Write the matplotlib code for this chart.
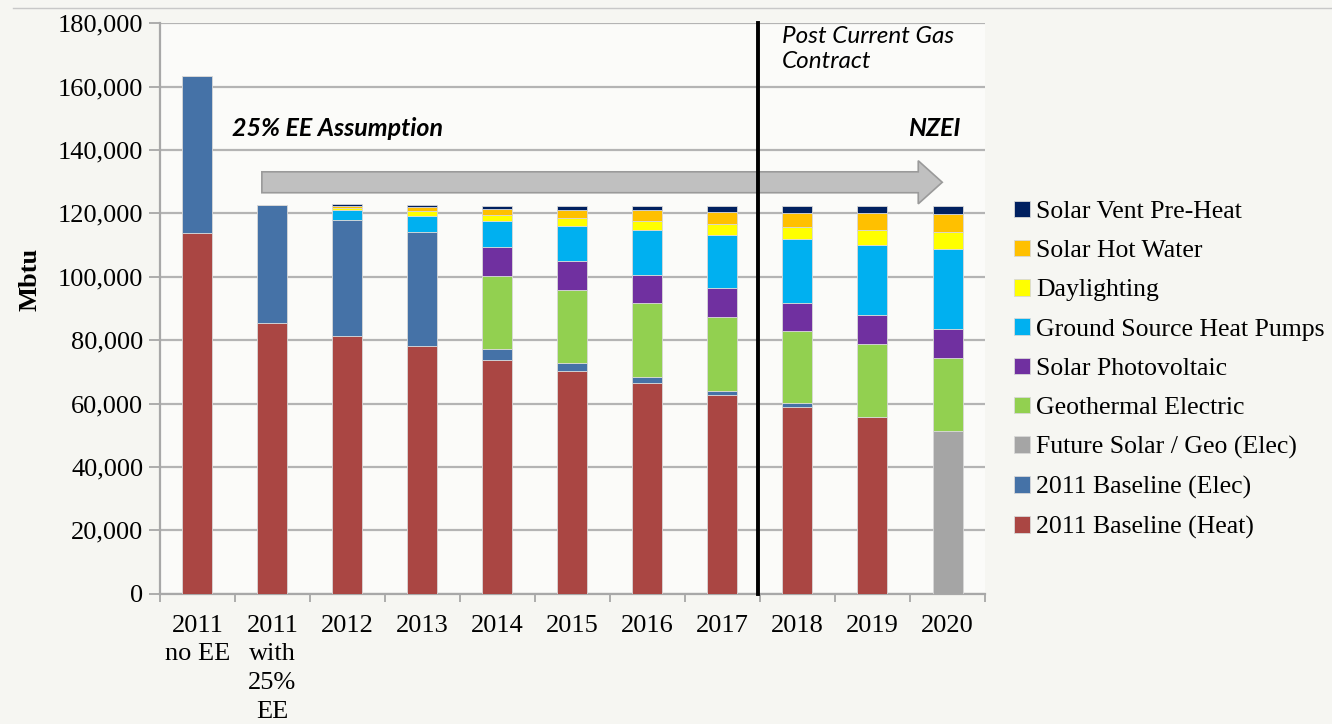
import matplotlib
matplotlib.use("Agg")
import matplotlib.pyplot as plt
from matplotlib.patches import FancyArrow
from matplotlib.lines import Line2D

# categories and stacked series (Mbtu), bottom to top
categories = ["2011\nno EE", "2011\nwith\n25%\nEE", "2012", "2013", "2014", "2015",
              "2016", "2017", "2018", "2019", "2020"]
baseline_heat = [113700, 85300, 81400, 78000, 73800, 70300, 66400, 62700, 58900, 55600, 0]
baseline_elec = [49600, 37300, 36500, 36200, 3400, 2400, 2100, 1400, 1200, 300, 0]
future_solar_geo = [0, 0, 0, 0, 0, 0, 0, 0, 0, 0, 51400]
geothermal = [0, 0, 0, 0, 23100, 23100, 23100, 23300, 22900, 22800, 22900]
solar_pv = [0, 0, 0, 0, 9200, 9300, 9100, 9000, 8800, 9300, 9200]
gshp = [0, 0, 3200, 5000, 8200, 10900, 14100, 16800, 20000, 22100, 25300]
daylighting = [0, 0, 500, 1500, 1800, 2400, 2800, 3400, 4000, 4700, 5400]
solar_hot_water = [0, 0, 600, 1200, 1800, 2700, 3500, 3900, 4400, 5400, 5500]
solar_vent = [0, 0, 600, 700, 1100, 1300, 1300, 1900, 2200, 2200, 2700]

series = [
    ("2011 Baseline (Heat)", baseline_heat, "#AA4643"),
    ("2011 Baseline (Elec)", baseline_elec, "#4572A7"),
    ("Future Solar / Geo (Elec)", future_solar_geo, "#A5A5A5"),
    ("Geothermal Electric", geothermal, "#92D050"),
    ("Solar Photovoltaic", solar_pv, "#7030A0"),
    ("Ground Source Heat Pumps", gshp, "#00B0F0"),
    ("Daylighting", daylighting, "#FFFF00"),
    ("Solar Hot Water", solar_hot_water, "#FFC000"),
    ("Solar Vent Pre-Heat", solar_vent, "#002060"),
]

serif = ["Liberation Serif", "DejaVu Serif"]
sans = ["Lato", "DejaVu Sans"]

fig = plt.figure(figsize=(13.32, 7.24), dpi=100, facecolor="#f6f6f2")
ax = fig.add_axes([0.120, 0.180, 0.6195, 0.788])
ax.set_facecolor("#fbfbf9")

x = list(range(len(categories)))
bottom = [0] * len(categories)
handles = []
for label, vals, color in series:
    bars = ax.bar(x, vals, width=0.4, bottom=bottom, color=color,
                  edgecolor="#d8d8d8", linewidth=0.6, label=label, zorder=3)
    handles.append(bars)
    bottom = [b + v for b, v in zip(bottom, vals)]

ax.set_xlim(-0.5, 10.5)
ax.set_ylim(0, 180000)
ax.set_yticks(range(0, 180001, 20000))
ax.set_yticklabels([f"{v:,}" for v in range(0, 180001, 20000)],
                   fontsize=19, family=serif)
ax.set_xticks(x)
ax.set_xticklabels(categories, fontsize=19, family=serif, linespacing=1.4)
ax.set_xticks([i - 0.5 for i in range(len(categories) + 1)], minor=True)
ax.tick_params(axis="x", which="major", length=0, pad=15)
ax.tick_params(axis="x", which="minor", length=6, color="#a0a0a0", width=1.2)
ax.tick_params(axis="y", length=8, color="#a0a0a0", width=1.2, pad=4)
ax.grid(axis="y", color="#b4b4b4", linewidth=1.6, zorder=0)
for side in ["top", "right"]:
    ax.spines[side].set_visible(False)
for side in ["left", "bottom"]:
    ax.spines[side].set_color("#a8a8a8")
    ax.spines[side].set_linewidth(1.6)

ax.set_ylabel("Mbtu", fontsize=19, family=serif, fontweight="bold")
ax.yaxis.set_label_coords(-0.143, 0.55)

# contract divider
ax.plot([7.47, 7.47], [0, 180000], color="black", linewidth=2.8, zorder=5,
        clip_on=False)

# trend arrow
ax.add_patch(FancyArrow(0.86, 129800, 9.07, 0, width=6600, head_width=13600,
                        head_length=0.32, length_includes_head=True,
                        facecolor="#c0c0c0", edgecolor="#9a9a9a", linewidth=1.2,
                        zorder=4))

ax.text(0.46, 146900, "25% EE Assumption", fontsize=18, family=sans,
        fontweight="bold", style="italic", va="center", ha="left")
ax.text(10.17, 146900, "NZEI", fontsize=18, family=sans,
        fontweight="bold", style="italic", va="center", ha="right")
ax.text(7.79, 179000, "Post Current Gas\nContract", fontsize=17.5, family=sans,
        style="italic", va="top", ha="left", linespacing=1.2)

leg = ax.legend(handles[::-1], [s[0] for s in series][::-1],
                loc="center left", bbox_to_anchor=(0.744, 0.489),
                bbox_transform=fig.transFigure, frameon=False,
                prop={"family": serif, "size": 18.5}, handlelength=0.6,
                handleheight=0.6, handletextpad=0.25, labelspacing=0.66)

fig.add_artist(Line2D([0.01, 1.0], [0.989, 0.989], color="#c8c8c8", linewidth=1))

fig.savefig("out.png", dpi=100, facecolor=fig.get_facecolor())
